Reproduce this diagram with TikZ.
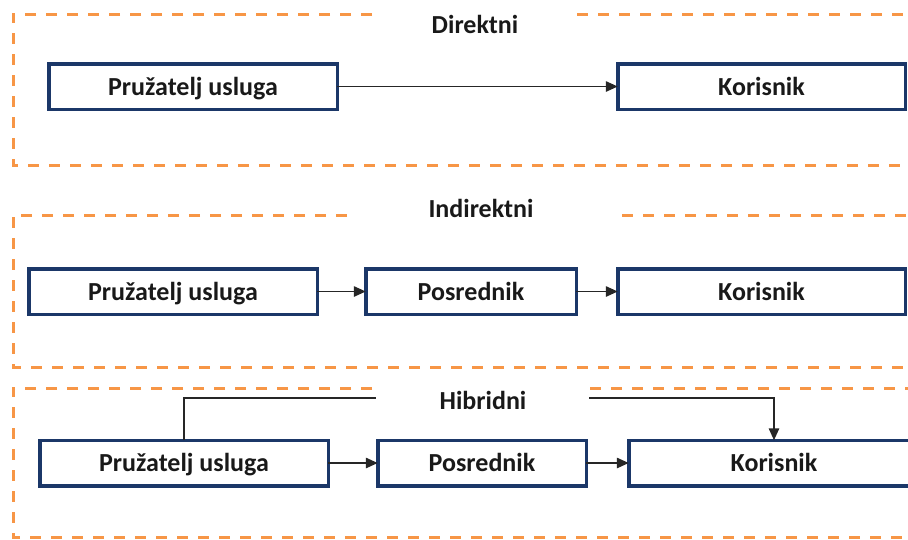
\documentclass[tikz,border=0pt]{standalone}
\usepackage{fontspec}
\setmainfont{Carlito}
\usetikzlibrary{arrows.meta}
\definecolor{frameorange}{HTML}{F79646}
\definecolor{boxnavy}{HTML}{1B3768}
\begin{document}
\begin{tikzpicture}[x=1pt,y=-1pt,
  frame/.style={draw=frameorange,line width=3pt,dash pattern=on 11pt off 10pt},
  entity/.style={draw=boxnavy,line width=3.5pt,fill=white,minimum height=45.5pt,
    inner sep=0pt,outer sep=0pt,text height=20pt,text depth=3pt,
    font=\fontsize{26}{30}\selectfont\bfseries,text=black!90},
  ttl/.style={anchor=base,inner sep=0pt,font=\fontsize{26}{30}\selectfont\bfseries,text=black!90},
  conn/.style={draw=black!85,line width=1.5pt},
  flow/.style={conn,-{Triangle[length=12pt,width=10.5pt]}}]
\useasboundingbox (0,0) rectangle (908,539);
% frames
\draw[frame] (372,14) -- (13,14) -- (13,165) -- (912,165);
\draw[frame] (577,14) -- (912,14);
\draw[frame] (347,215) -- (13,215) -- (13,367) -- (912,367);
\draw[frame] (622,215) -- (912,215);
\draw[frame] (372,388) -- (13,388) -- (13,537) -- (912,537);
\draw[frame] (590,388) -- (912,388);
% titles
\node[ttl] (t1) at (475,33) {Direktni};
\node[ttl] (t2) at (481,217) {Indirektni};
\node[ttl] (t3) at (483,409) {Hibridni};
% panel 1
\node[entity,minimum width=288.5pt] (p1) at (193,86.5) {Pružatelj usluga};
\node[entity,minimum width=287.5pt] (k1) at (761.5,86.5) {Korisnik};
\draw[flow] (p1.east) -- (k1.west);
% panel 2
\node[entity,minimum width=288.5pt] (p2) at (173,291.5) {Pružatelj usluga};
\node[entity,minimum width=210.5pt] (m2) at (471,291.5) {Posrednik};
\node[entity,minimum width=287.5pt] (k2) at (761.5,291.5) {Korisnik};
\draw[flow] (p2.east) -- (m2.west);
\draw[flow] (m2.east) -- (k2.west);
% panel 3
\node[entity,minimum width=288.5pt] (p3) at (184,463) {Pružatelj usluga};
\node[entity,minimum width=208.5pt] (m3) at (482,463) {Posrednik};
\node[entity,minimum width=290.5pt] (k3) at (774,463) {Korisnik};
\draw[flow] (p3.east) -- (m3.west);
\draw[flow] (m3.east) -- (k3.west);
\coordinate (hA) at (376,398);
\coordinate (hB) at (589,398);
\draw[conn] (p3.north) |- (hA);
\draw[flow] (hB) -| (k3.north);
\end{tikzpicture}
\end{document}
